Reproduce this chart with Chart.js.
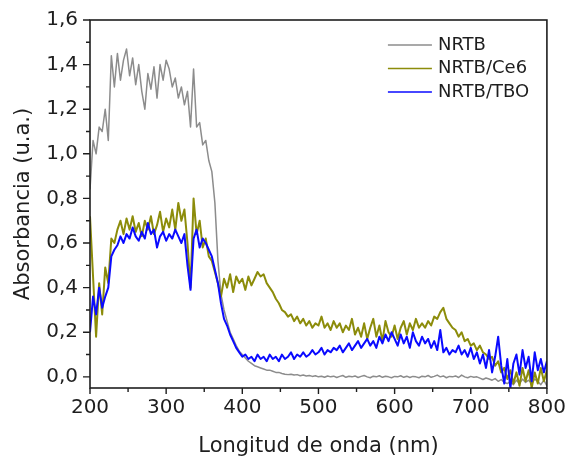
<!DOCTYPE html>
<html>
<head>
<meta charset="utf-8">
<script src="https://cdn.jsdelivr.net/npm/chart.js@4/dist/chart.umd.min.js"></script>
<style>html,body{margin:0;padding:0;background:#fff}</style>
</head>
<body>
<canvas id="spectra" width="569" height="459"></canvas>
<script>
// Wavelength grid (nm)
const wavelengths = [
  200,204,208,212,216,220,224,228,232,236,
  240,244,248,252,256,260,264,268,272,276,
  280,284,288,292,296,300,304,308,312,316,
  320,324,328,332,336,340,344,348,352,356,
  360,364,368,372,376,380,384,388,392,396,
  400,404,408,412,416,420,424,428,432,436,
  440,444,448,452,456,460,464,468,472,476,
  480,484,488,492,496,500,504,508,512,516,
  520,524,528,532,536,540,544,548,552,556,
  560,564,568,572,576,580,584,588,592,596,
  600,604,608,612,616,620,624,628,632,636,
  640,644,648,652,656,660,664,668,672,676,
  680,684,688,692,696,700,704,708,712,716,
  720,724,728,732,736,740,744,748,752,756,
  760,764,768,772,776,780,784,788,792,796,
  800
];

// Absorbance (a.u.) of each sample
const nrtb = [
  0.84,1.06,1.00,1.12,1.10,1.20,1.06,1.44,1.30,1.45,
  1.33,1.42,1.47,1.35,1.43,1.31,1.40,1.28,1.20,1.36,
  1.29,1.39,1.25,1.40,1.33,1.42,1.38,1.30,1.34,1.25,
  1.30,1.22,1.28,1.12,1.38,1.12,1.14,1.04,1.06,0.97,
  0.92,0.78,0.52,0.37,0.30,0.25,0.20,0.17,0.14,0.115,
  0.10,0.085,0.07,0.06,0.05,0.045,0.04,0.035,0.03,0.03,
  0.025,0.02,0.02,0.015,0.012,0.01,0.012,0.008,0.01,0.005,
  0.008,0.004,0.006,0.002,0.005,0.0,0.003,-0.002,0.004,0.0,
  0.003,-0.003,0.002,0.006,-0.002,0.003,0.0,0.004,-0.003,0.002,
  0.006,0.0,-0.004,0.003,0.0,0.005,-0.002,0.003,0.0,-0.004,
  0.002,0.0,0.005,-0.002,0.003,-0.003,0.002,0.0,-0.004,0.003,
  0.0,0.006,-0.002,0.002,0.008,0.0,0.004,-0.004,0.002,0.0,
  0.004,-0.003,0.008,0.0,-0.004,0.002,-0.002,0.0,-0.006,-0.012,
  -0.005,-0.01,-0.015,-0.008,-0.02,-0.012,-0.025,-0.03,-0.02,-0.035,
  -0.015,-0.03,-0.01,-0.025,-0.015,-0.03,-0.01,-0.02,-0.035,-0.015,
  -0.04
];

const nrtbCe6 = [
  0.72,0.45,0.18,0.42,0.28,0.49,0.42,0.62,0.60,0.66,
  0.70,0.64,0.71,0.66,0.72,0.65,0.69,0.63,0.70,0.66,
  0.72,0.64,0.68,0.74,0.65,0.71,0.67,0.75,0.66,0.78,
  0.70,0.75,0.60,0.40,0.80,0.64,0.70,0.58,0.62,0.54,
  0.52,0.47,0.42,0.36,0.44,0.40,0.46,0.38,0.45,0.42,
  0.44,0.39,0.45,0.41,0.44,0.47,0.45,0.46,0.42,0.40,
  0.38,0.35,0.33,0.30,0.29,0.27,0.28,0.25,0.27,0.24,
  0.26,0.23,0.25,0.22,0.24,0.23,0.27,0.22,0.24,0.21,
  0.25,0.22,0.24,0.20,0.23,0.21,0.26,0.19,0.22,0.18,
  0.24,0.17,0.22,0.26,0.18,0.23,0.16,0.25,0.20,0.18,
  0.23,0.17,0.22,0.25,0.19,0.24,0.21,0.26,0.22,0.24,
  0.22,0.25,0.23,0.27,0.26,0.29,0.31,0.26,0.24,0.22,
  0.21,0.18,0.20,0.16,0.17,0.14,0.15,0.12,0.14,0.11,
  0.10,0.08,0.09,0.05,0.07,0.02,0.04,-0.01,0.03,-0.03,
  0.02,-0.04,0.04,-0.02,0.03,-0.05,0.02,-0.03,0.04,-0.02,
  0.03
];

const nrtbTbo = [
  0.20,0.36,0.28,0.40,0.31,0.36,0.40,0.54,0.57,0.59,
  0.63,0.60,0.64,0.62,0.67,0.63,0.61,0.65,0.62,0.69,
  0.64,0.66,0.58,0.63,0.65,0.61,0.64,0.62,0.66,0.63,
  0.60,0.64,0.50,0.39,0.62,0.66,0.58,0.62,0.60,0.57,
  0.54,0.48,0.42,0.33,0.26,0.23,0.19,0.16,0.13,0.11,
  0.09,0.10,0.08,0.09,0.07,0.10,0.08,0.09,0.07,0.10,
  0.08,0.09,0.07,0.10,0.08,0.09,0.11,0.08,0.10,0.09,
  0.11,0.09,0.10,0.12,0.10,0.11,0.13,0.10,0.12,0.11,
  0.13,0.12,0.14,0.11,0.13,0.15,0.12,0.14,0.16,0.13,
  0.15,0.17,0.14,0.16,0.13,0.18,0.15,0.19,0.16,0.20,
  0.17,0.14,0.19,0.15,0.18,0.13,0.20,0.16,0.14,0.18,
  0.15,0.17,0.13,0.16,0.12,0.21,0.11,0.13,0.10,0.12,
  0.11,0.14,0.10,0.12,0.09,0.13,0.08,0.11,0.06,0.10,
  0.04,0.12,0.02,0.09,0.18,0.05,-0.03,0.08,-0.05,0.06,
  0.10,0.01,0.12,0.04,0.09,-0.02,0.11,0.03,0.08,0.02,
  0.07
];

// Axis tick values
const xTickValues = [200, 300, 400, 500, 600, 700, 800];
const yTickValues = [0, 0.2, 0.4, 0.6, 0.8, 1.0, 1.2, 1.4, 1.6];

const FONT = '"DejaVu Sans", "Liberation Sans", Arial, sans-serif';
const INK = '#1e1e1e';

const toPoints = values => wavelengths.map((w, i) => ({ x: w, y: values[i] }));

// Box frame with outward major and minor tick marks
const axisFrame = {
  id: 'axisFrame',
  afterDatasetsDraw(chart) {
    const { ctx, chartArea: a, scales: { x, y } } = chart;
    ctx.save();
    ctx.strokeStyle = INK;
    ctx.lineWidth = 1.6;
    ctx.strokeRect(a.left, a.top, a.right - a.left, a.bottom - a.top);
    ctx.lineWidth = 1.4;
    ctx.beginPath();
    xTickValues.forEach((v, i) => {
      const px = x.getPixelForValue(v);
      ctx.moveTo(px, a.bottom); ctx.lineTo(px, a.bottom + 6);
      if (i < xTickValues.length - 1) {
        const mx = x.getPixelForValue((v + xTickValues[i + 1]) / 2);
        ctx.moveTo(mx, a.bottom); ctx.lineTo(mx, a.bottom + 4);
      }
    });
    yTickValues.forEach((v, i) => {
      const py = y.getPixelForValue(v);
      ctx.moveTo(a.left, py); ctx.lineTo(a.left - 7, py);
      if (i < yTickValues.length - 1) {
        const my = y.getPixelForValue((v + yTickValues[i + 1]) / 2);
        ctx.moveTo(a.left, my); ctx.lineTo(a.left - 4, my);
      }
    });
    ctx.stroke();
    ctx.restore();
  }
};

// Legend drawn inside the plot, upper right
const insetLegend = {
  id: 'insetLegend',
  afterDraw(chart) {
    const { ctx, chartArea: a } = chart;
    const x0 = a.right - 159;
    const y0 = a.top + 25;
    ctx.save();
    ctx.font = '18px ' + FONT;
    ctx.textBaseline = 'middle';
    ctx.textAlign = 'left';
    chart.data.datasets.forEach((ds, i) => {
      const yy = y0 + i * 23.5;
      ctx.strokeStyle = ds.borderColor;
      ctx.lineWidth = 1.5;
      ctx.beginPath();
      ctx.moveTo(x0, yy);
      ctx.lineTo(x0 + 44, yy);
      ctx.stroke();
      ctx.fillStyle = INK;
      ctx.fillText(ds.label, x0 + 50, yy);
    });
    ctx.restore();
  }
};

new Chart(document.getElementById('spectra'), {
  type: 'line',
  data: {
    datasets: [
      { label: 'NRTB', data: toPoints(nrtb), borderColor: '#8c8c8c', borderWidth: 1.5, order: 3 },
      { label: 'NRTB/Ce6', data: toPoints(nrtbCe6), borderColor: '#8c8c0a', borderWidth: 2, order: 2 },
      { label: 'NRTB/TBO', data: toPoints(nrtbTbo), borderColor: '#0a0aff', borderWidth: 2, order: 1 }
    ]
  },
  options: {
    responsive: false,
    animation: false,
    devicePixelRatio: 1,
    layout: { padding: { top: 20, right: 22, bottom: 0, left: 0 } },
    elements: {
      point: { radius: 0 },
      line: { tension: 0, borderJoinStyle: 'round', fill: false }
    },
    plugins: {
      legend: { display: false },
      tooltip: { enabled: false }
    },
    scales: {
      x: {
        type: 'linear',
        min: 200,
        max: 800,
        afterBuildTicks: s => { s.ticks = xTickValues.map(v => ({ value: v })); },
        afterFit: s => { s.height = 71; },
        border: { display: false },
        grid: { display: false, drawTicks: true, tickLength: 5 },
        ticks: {
          font: { family: FONT, size: 20 },
          color: INK,
          padding: 3,
          maxRotation: 0,
          autoSkip: false
        },
        title: {
          display: true,
          text: 'Longitud de onda (nm)',
          font: { family: FONT, size: 21 },
          color: INK,
          padding: { top: 0, bottom: 0 }
        }
      },
      y: {
        min: -0.05,
        max: 1.6,
        afterBuildTicks: s => { s.ticks = yTickValues.map(v => ({ value: v })); },
        afterFit: s => { s.width = 90; },
        border: { display: false },
        grid: { display: false, drawTicks: true, tickLength: 7 },
        ticks: {
          font: { family: FONT, size: 20 },
          color: INK,
          padding: 5,
          callback: v => v.toFixed(1).replace('.', ',')
        },
        title: {
          display: true,
          text: 'Absorbancia (u.a.)',
          font: { family: FONT, size: 21 },
          color: INK,
          padding: { top: 11, bottom: 0 }
        }
      }
    }
  },
  plugins: [axisFrame, insetLegend]
});
</script>
</body>
</html>
